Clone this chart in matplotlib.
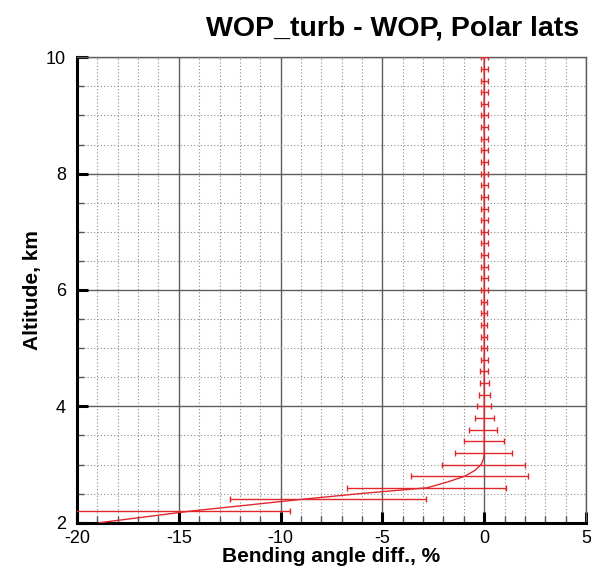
import matplotlib
matplotlib.use('Agg')
import matplotlib.pyplot as plt
from matplotlib.ticker import MultipleLocator
import numpy as np

plt.rcParams['font.family'] = ['Liberation Sans', 'DejaVu Sans']
plt.rcParams['axes.unicode_minus'] = False

# mean profile of the bending angle difference (%)
line_alt = [2.0, 2.2, 2.4, 2.5, 2.6, 2.7, 2.8, 2.9, 3.0, 3.1, 3.2, 4.0, 6.0, 8.0, 10.0]
line_diff = [-18.9, -14.4, -9.0, -6.1, -2.8, -1.8, -0.95, -0.45, -0.15, -0.03, 0.0, 0.0, 0.0, 0.0, 0.0]

# binned means and spread, every 0.2 km
bar_alt = [2.2, 2.4, 2.6, 2.8, 3.0, 3.2, 3.4, 3.6, 3.8, 4.0,
           4.2, 4.4, 4.6, 4.8, 5.0, 5.2, 5.4, 5.6, 5.8, 6.0,
           6.2, 6.4, 6.6, 6.8, 7.0, 7.2, 7.4, 7.6, 7.8, 8.0,
           8.2, 8.4, 8.6, 8.8, 9.0, 9.2, 9.4, 9.6, 9.8, 10.0]
bar_diff = [-15.0, -7.67, -2.85, -0.72, -0.03, -0.02, 0.01, -0.05, 0.02, 0.0,
            0.0, 0.0, 0.0, 0.0, 0.0, 0.0, 0.0, 0.0, 0.0, 0.0,
            0.0, 0.0, 0.0, 0.0, 0.0, 0.0, 0.0, 0.0, 0.0, 0.0,
            0.0, 0.0, 0.0, 0.0, 0.0, 0.0, 0.0, 0.0, 0.0, 0.0]
bar_err = [5.45, 4.8, 3.91, 2.87, 2.02, 1.41, 0.98, 0.69, 0.48, 0.35,
           0.27, 0.22, 0.2, 0.17, 0.16, 0.16, 0.14, 0.15, 0.16, 0.17,
           0.18, 0.18, 0.18, 0.18, 0.18, 0.18, 0.18, 0.18, 0.18, 0.18,
           0.18, 0.18, 0.18, 0.18, 0.18, 0.18, 0.18, 0.18, 0.18, 0.18]

red = '#e0282c'

fig = plt.figure(figsize=(5.91, 5.66), dpi=100)
ax = fig.add_axes([0.1303, 0.0765, 0.8612, 0.8223])

ax.plot(line_diff, line_alt, color=red, lw=1.0, zorder=3)
ax.errorbar(bar_diff, bar_alt, xerr=bar_err, fmt='none', ecolor=red,
            elinewidth=1.0, capsize=2.5, capthick=1.0, zorder=3)

ax.set_xlim(-20, 5)
ax.set_ylim(2, 10)
ax.xaxis.set_major_locator(MultipleLocator(5))
ax.xaxis.set_minor_locator(MultipleLocator(1))
ax.yaxis.set_major_locator(MultipleLocator(2))
ax.yaxis.set_minor_locator(MultipleLocator(0.5))

ax.set_axisbelow(True)
ax.grid(which='major', color='#5e5e5e', lw=1.0, ls='-')
ax.grid(which='minor', color='#8a8a8a', lw=0.8, ls=(0, (1, 2)))

for side in ['left', 'bottom']:
    ax.spines[side].set_linewidth(2.2)
    ax.spines[side].set_color('black')
for side in ['top', 'right']:
    ax.spines[side].set_linewidth(1.0)
    ax.spines[side].set_color('#5e5e5e')

ax.tick_params(which='major', direction='in', length=8, width=2.2, color='black',
               labelsize=13, top=False, right=False)
ax.tick_params(which='minor', direction='in', length=5, width=1.0, color='#555555',
               top=False, right=False)
ax.tick_params(axis='x', which='major', pad=5)
ax.tick_params(axis='y', which='major', pad=8)

ax.set_xlabel('Bending angle diff., %', fontsize=15, fontweight='bold', labelpad=0)
ax.set_ylabel('Altitude, km', fontsize=15, fontweight='bold', labelpad=3)

fig.text(579 / 591, 1 - 36 / 566, 'WOP_turb - WOP, Polar lats', fontsize=20.5,
         fontweight='bold', ha='right', va='baseline')

fig.savefig('out.png', dpi=100)
